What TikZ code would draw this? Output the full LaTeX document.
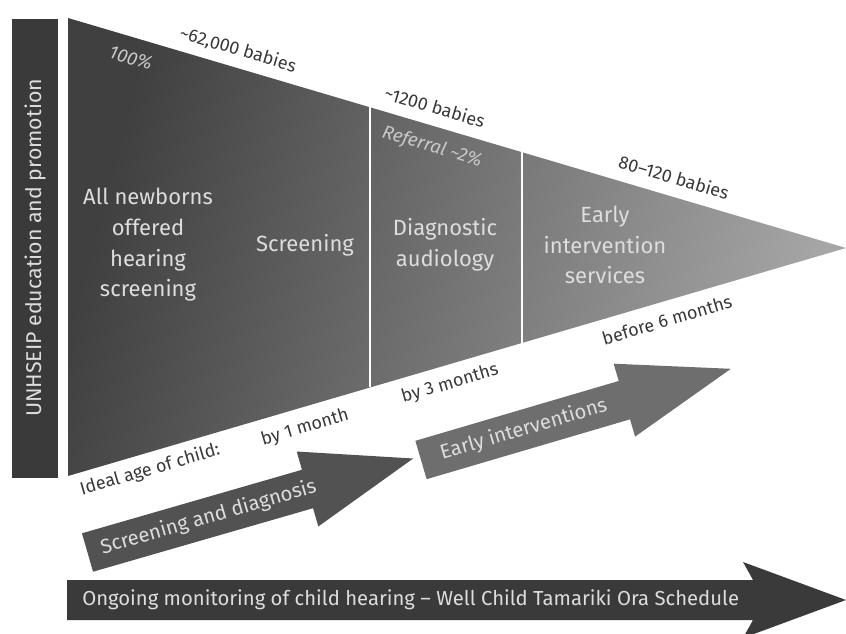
\documentclass[tikz,border=0pt]{standalone}
\usepackage{fontspec}
\setmainfont{Fira Sans}
\usetikzlibrary{calc}
\definecolor{bardark}{HTML}{3A3A3A}
\definecolor{arrowA}{HTML}{525252}
\definecolor{arrowB}{HTML}{6E6E6E}
\definecolor{triL}{HTML}{404040}
\definecolor{triR}{HTML}{A6A6A6}
\definecolor{lighttext}{HTML}{DDDDDD}
\definecolor{darktext}{HTML}{383838}
\definecolor{italtext}{HTML}{C8C8C8}
\tikzset{
  bigtext/.style={text=lighttext, align=center, font=\fontsize{16.5}{23}\selectfont, inner sep=0pt},
  edgetext/.style={text=darktext, font=\fontsize{13.5}{15}\selectfont, inner sep=0pt},
  innertext/.style={text=italtext, font=\itshape\fontsize{14}{15}\selectfont, inner sep=0pt},
  arrowtext/.style={text=lighttext, font=\fontsize{15.2}{17}\selectfont, inner sep=0pt},
  divider/.style={draw=white, line width=1.5pt},
}
\begin{document}
\begin{tikzpicture}[x=0.75pt,y=-0.75pt]
\useasboundingbox (0,0) rectangle (846,634);
% left bar
\fill[bardark] (12,19) rectangle (58,478);
\node[arrowtext, rotate=90, font=\fontsize{16}{17}\selectfont] (bartxt) at (35,248) {UNHSEIP education and promotion};
% triangle
\coordinate (tl) at (68,18);
\coordinate (apex) at (846,248);
\coordinate (bl) at (68,476);
\shade[left color=triL, right color=triR, shading angle=75] (tl) -- (apex) -- (bl) -- cycle;
\draw[divider] ($(tl)!0.3882!(apex)$) -- ($(bl)!0.3882!(apex)$);
\draw[divider] ($(tl)!0.5835!(apex)$) -- ($(bl)!0.5835!(apex)$);
% triangle texts
\node[bigtext] (allnew) at (148,245) {All newborns\\offered\\hearing\\screening};
\node[bigtext] (screen) at (305,245) {Screening};
\node[bigtext] (diag) at (445,245) {Diagnostic\\audiology};
\node[bigtext] (early) at (605,245) {Early\\intervention\\services};
% top labels
\node[edgetext, rotate=-16.5] (n62) at (238,50) {\textasciitilde62,000 babies};
\node[innertext, rotate=-16.5] (p100) at (131,58) {100\%};
\node[edgetext, rotate=-16.5] (n1200) at (435,107) {\textasciitilde1200 babies};
\node[innertext, rotate=-16.5] (refer) at (432,147) {Referral \textasciitilde2\%};
\node[edgetext, rotate=-16.5] (n80) at (674,177) {80–120 babies};
% bottom labels
\node[edgetext, rotate=16.3] (ideal) at (150,470) {Ideal age of child:};
\node[edgetext, rotate=16.3] (m1) at (305,428) {by 1 month};
\node[edgetext, rotate=16.3] (m3) at (450,384) {by 3 months};
\node[edgetext, rotate=16.3] (m6) at (667,320) {before 6 months};
% arrow 1
\begin{scope}[shift={(87.5,552.5)}, rotate=16.1]
\fill[arrowA] (0,-20) -- (229,-20) -- (229,-39) -- (339,0) -- (229,39) -- (229,20) -- (0,20) -- cycle;
\node[arrowtext, rotate=16.1] (sd) at (126,0) {Screening and diagnosis};
\end{scope}
% arrow 2
\begin{scope}[shift={(421,460)}, rotate=16.4]
\fill[arrowB] (0,-20) -- (212,-20) -- (212,-38) -- (323,0) -- (212,38) -- (212,20) -- (0,20) -- cycle;
\node[arrowtext, rotate=16.4] (ei) at (107,0) {Early interventions};
\end{scope}
% bottom arrow
\fill[bardark] (67,580) -- (753,580) -- (743,562) -- (846,600) -- (743,638) -- (753,620) -- (67,620) -- cycle;
\node[arrowtext, anchor=west] (ongo) at (82,600) {Ongoing monitoring of child hearing – Well Child Tamariki Ora Schedule};
\end{tikzpicture}
\end{document}
